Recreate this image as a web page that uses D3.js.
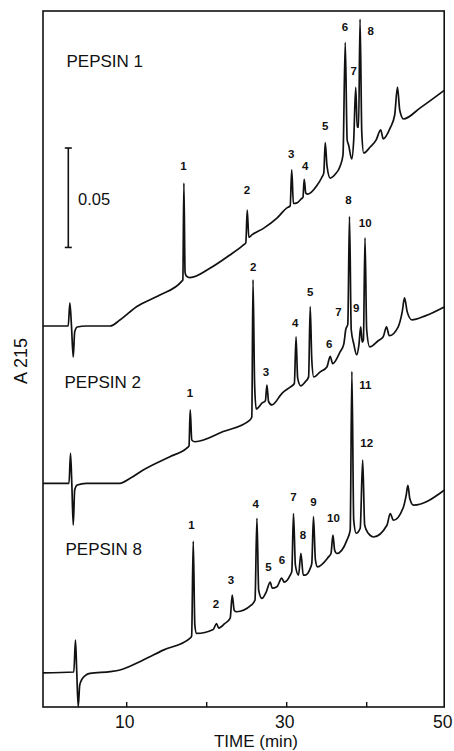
<!DOCTYPE html>
<html>
<head>
<meta charset="utf-8">
<script src="https://cdn.jsdelivr.net/npm/d3@7"></script>
<style>
  html, body { margin: 0; padding: 0; background: #fff; }
  svg { display: block; }
  text { font-family: "Liberation Sans", Arial, Helvetica, sans-serif; fill: #111; }
</style>
</head>
<body>
<div id="chart"></div>
<script>
// ---------------- DATA (time in min, absorbance in mAU above each trace's start) -------------
const traceNames = ["PEPSIN 1", "PEPSIN 2", "PEPSIN 8"];
const traceOffsets = [191.6, 112.5, 17.2]; // mAU, vertical offset of each trace

const pepsin1 = [
  [-0.4, 0], [2.75, 0], [2.96, 11.6], [3.16, 0], [3.38, -15.6], [3.56, -3.0], [3.88, -0.5], [5.0, 0],
  [8.0, 0], [9.21, 3.0], [11.29, 9.7], [14.21, 15.6], [16.9, 22.3], [17.08, 23.2], [17.21, 71.9],
  [17.36, 27.0], [17.5, 25.2], [17.96, 24.3], [20.46, 29.0], [22.96, 35.7], [24.63, 40.7], [24.95, 41.8],
  [25.13, 58.3], [25.33, 44.5], [25.71, 45.8], [27.16, 49.1], [28.84, 54.2], [30.09, 59.4], [30.5, 60.4],
  [30.69, 78.5], [30.9, 61.6], [31.34, 61.9], [31.88, 63.9], [32.1, 64.8], [32.25, 73.7], [32.45, 66.8],
  [32.7, 66.3], [33.84, 70.6], [34.46, 74.8], [34.7, 77.0], [34.88, 92.2], [35.1, 80.5], [35.5, 74.4],
  [36.13, 76.3], [36.75, 80.5], [37.1, 86.0], [37.38, 142.6], [37.62, 93.6], [37.8, 91.0], [38.19, 84.0],
  [38.44, 93.6], [38.69, 120.0], [38.88, 100.1], [39.05, 100.0], [39.23, 154.3], [39.45, 97.0],
  [39.69, 87.0], [40.5, 90.0], [41.25, 93.6], [41.81, 98.6], [42.13, 94.1], [43.0, 99.6], [43.56, 106.1],
  [43.91, 120.1], [44.19, 108.6], [44.66, 104.1], [46.75, 109.7], [49.75, 118.5]
];

const pepsin2 = [
  [-0.4, 0], [2.85, 0], [3.04, 15.1], [3.2, 0], [3.38, -21.0], [3.56, -3.4], [3.88, -0.9], [5.0, 0],
  [9.21, 0], [10.5, 2.5], [12.13, 6.7], [15.46, 13.4], [17.54, 17.6], [17.85, 18.8], [18.0, 36.9],
  [18.2, 21.8], [18.59, 20.9], [22.13, 26.0], [25.46, 31.8], [25.7, 33.3], [25.85, 102.3], [26.05, 50.0],
  [26.25, 37.4], [27.0, 40.4], [27.4, 41.5], [27.59, 49.4], [27.8, 41.0], [28.21, 39.4], [29.5, 45.4],
  [30.5, 48.4], [31.02, 50.2], [31.23, 73.7], [31.43, 53.0], [31.81, 49.0], [32.38, 51.0], [32.8, 53.5],
  [33.0, 88.8], [33.2, 62.0], [33.44, 53.5], [34.25, 56.0], [35.09, 58.5], [35.5, 63.8], [35.81, 60.2],
  [36.75, 66.2], [37.2, 70.0], [37.44, 77.2], [37.7, 80.0], [37.91, 134.2], [38.13, 77.2], [38.45, 70.0],
  [38.81, 64.6], [39.1, 70.0], [39.31, 78.7], [39.5, 71.0], [39.65, 72.0], [39.85, 123.4], [40.06, 77.2],
  [40.44, 68.6], [41.5, 71.7], [42.13, 73.7], [42.54, 78.7], [42.88, 74.2], [44.0, 78.7], [44.5, 86.2],
  [44.79, 93.2], [45.13, 86.2], [45.71, 82.2], [47.38, 84.2], [49.75, 88.7]
];

const pepsin8 = [
  [-0.4, 0], [3.45, 0.4], [3.66, 16.4], [3.82, 0.4], [4.0, -17.0], [4.19, -6.2], [4.41, -3.7], [4.88, -1.4],
  [5.46, -0.3], [8.0, 0.6], [9.21, 1.4], [12.13, 6.4], [14.63, 11.4], [17.96, 17.3], [18.18, 18.5],
  [18.38, 66.2], [18.58, 24.0], [18.79, 19.8], [20.88, 21.8], [21.29, 24.8], [21.56, 22.5], [22.34, 24.8],
  [23.0, 27.5], [23.25, 39.1], [23.5, 31.5], [23.79, 30.7], [25.66, 34.1], [26.1, 36.6], [26.34, 77.7],
  [26.56, 41.5], [26.96, 37.4], [27.5, 40.6], [28.0, 45.6], [28.25, 42.6], [28.84, 43.3], [29.44, 47.6],
  [29.75, 45.6], [30.5, 49.1], [30.7, 51.0], [30.91, 80.1], [31.15, 54.1], [31.54, 49.1], [31.84, 60.1],
  [32.13, 49.1], [32.38, 49.1], [33.0, 52.5], [33.2, 55.0], [33.41, 78.5], [33.65, 56.8], [33.91, 53.3],
  [35.29, 58.3], [35.6, 60.0], [35.84, 69.2], [36.06, 61.6], [36.34, 60.0], [37.59, 66.7], [38.0, 71.8],
  [38.21, 151.5], [38.44, 76.8], [38.75, 70.2], [39.25, 72.7], [39.56, 106.9], [39.81, 74.2], [40.29, 70.0],
  [40.91, 68.3], [42.59, 74.2], [43.0, 80.0], [43.41, 76.7], [44.66, 83.4], [45.0, 89.3], [45.21, 94.3],
  [45.44, 87.8], [45.91, 84.3], [49.75, 91.8]
];

// peak number labels: [text, time, mAU above trace start]
const labels1 = [["1",17.16,80.6],["2",25.09,68.4],["3",30.63,86.4],["4",32.38,80.7],["5",34.88,100.6],
  ["6",37.34,150.6],["7",38.44,128.5],["8",40.56,148.6]];
const labels2 = [["1",17.96,45.3],["2",25.88,109.0],["3",27.46,56.1],["4",31.13,80.8],["5",33.0,96.2],
  ["6",35.38,69.9],["7",36.54,86.3],["8",37.79,142.5],["9",38.75,88.0],["10",39.88,131.1]];
const labels3 = [["1",18.16,74.3],["2",21.21,34.6],["3",23.09,46.6],["4",26.19,85.1],["5",27.79,53.3],
  ["6",29.46,57.0],["7",30.91,88.5],["8",32.09,69.3],["9",33.41,86.0],["10",35.91,77.7],
  ["11",39.88,144.7],["12",40.06,115.5]];

const tickValues = [10, 20, 30, 40, 50];
const tickLabels = ["10", "", "30", "", "50"];
const scaleBarValue = 50;      // mAU  (0.05 AU)
const scaleBarLabel = "0.05";
const yAxisLabel = "A 215";
const xAxisLabel = "TIME (min)";

// ---------------- DRAWING -------------
const W = 454, H = 751;
const svg = d3.select("#chart").append("svg").attr("width", W).attr("height", H);

const x = d3.scaleLinear().domain([-0.4, 49.75]).range([43, 444.2]);
const y = d3.scaleLinear().domain([0, 350]).range([707, 11]);

// frame
svg.append("rect")
  .attr("x", x.range()[0]).attr("y", y.range()[1])
  .attr("width", x.range()[1] - x.range()[0]).attr("height", y.range()[0] - y.range()[1])
  .attr("fill", "none").attr("stroke", "#111").attr("stroke-width", 1.6);

// bottom axis (inward ticks)
const xAxis = d3.axisBottom(x).tickValues(tickValues)
  .tickFormat((d, i) => tickLabels[i]).tickSizeInner(-5).tickSizeOuter(0).tickPadding(9);
const gx = svg.append("g").attr("transform", `translate(0,${y.range()[0]})`).call(xAxis);
gx.select(".domain").remove();
gx.selectAll(".tick line").attr("stroke", "#111").attr("stroke-width", 1.4)
  .attr("display", d => d === 50 ? "none" : null);
gx.selectAll(".tick text").attr("font-size", 17.5).attr("dx", d => d === 50 ? -4 : -2)
  .style("font-family", '"Liberation Sans", Arial, sans-serif').attr("fill", "#111");

svg.append("text").attr("x", 256).attr("y", 746.5).attr("text-anchor", "middle")
  .attr("font-size", 17).text(xAxisLabel);

svg.append("text").attr("transform", "translate(26.5,361) rotate(-90)")
  .attr("text-anchor", "middle").attr("font-size", 18).text(yAxisLabel);

// scale bar
const sbBottom = 231.1, sbX = 68.3;
const sb = svg.append("g").attr("stroke", "#111").attr("stroke-width", 1.6);
sb.append("line").attr("x1", sbX).attr("x2", sbX).attr("y1", y(sbBottom)).attr("y2", y(sbBottom + scaleBarValue));
sb.append("line").attr("x1", sbX - 3.5).attr("x2", sbX + 3.5).attr("y1", y(sbBottom)).attr("y2", y(sbBottom));
sb.append("line").attr("x1", sbX - 3.5).attr("x2", sbX + 3.5).attr("y1", y(sbBottom + scaleBarValue)).attr("y2", y(sbBottom + scaleBarValue));
svg.append("text").attr("x", 78).attr("y", 205).attr("font-size", 16.5).text(scaleBarLabel);

// traces
const traces = [pepsin1, pepsin2, pepsin8];
const labelSets = [labels1, labels2, labels3];
const namePos = [[66.5, 66.7], [64.5, 388.3], [65.5, 555]];

traces.forEach((tr, i) => {
  const off = traceOffsets[i];
  const line = d3.line().x(d => x(d[0])).y(d => y(d[1] + off)).curve(d3.curveMonotoneX);
  svg.append("path").datum(tr).attr("d", line)
    .attr("fill", "none").attr("stroke", "#111").attr("stroke-width", 1.7)
    .attr("stroke-linejoin", "round");

  svg.append("g").selectAll("text").data(labelSets[i]).join("text")
    .attr("x", d => x(d[1])).attr("y", d => y(d[2] + off))
    .attr("dy", "0.36em").attr("text-anchor", "middle")
    .attr("font-size", 11.5).attr("font-weight", "bold").text(d => d[0]);

  svg.append("text").attr("x", namePos[i][0]).attr("y", namePos[i][1])
    .attr("font-size", 17).text(traceNames[i]);
});
</script>
</body>
</html>
